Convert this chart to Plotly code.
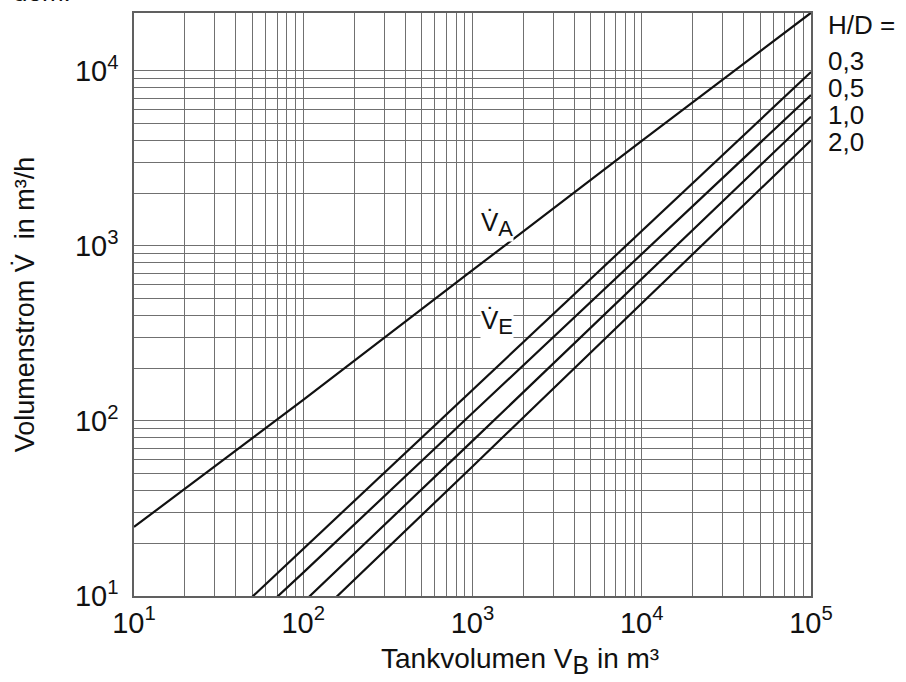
import plotly.graph_objects as go

# ---- data ----
vb_a = [10, 100, 1000, 10000, 100000]
v_a = [24.8, 132, 727, 3980, 21500]

vb_e = [50, 100, 1000, 10000, 100000]
v_e_03 = [9.9, 18.6, 151, 1220, 9860]
v_e_05 = [7.3, 13.6, 111, 898, 7290]
v_e_10 = [4.8, 9.2, 77, 650, 5470]
v_e_20 = [3.4, 6.5, 55, 472, 4020]

hd_labels = ["0,3", "0,5", "1,0", "2,0"]

x_major = [10, 100, 1000, 10000, 100000]
x_major_text = ["10<sup>1</sup>", "10<sup>2</sup>", "10<sup>3</sup>", "10<sup>4</sup>", "10<sup>5</sup>"]
y_major = [10, 100, 1000, 10000]
y_major_text = ["10<sup>1</sup>", "10<sup>2</sup>", "10<sup>3</sup>", "10<sup>4</sup>"]

x_minor = [k * 10 ** d for d in range(1, 5) for k in range(2, 10)]
y_minor = [k * 10 ** d for d in range(1, 4) for k in range(2, 10)]

FONT = "Liberation Sans, Arial, sans-serif"
LINE = dict(color="#111111", width=2.2)
GRID = "#707070"

fig = go.Figure()
fig.add_trace(go.Scatter(x=vb_a, y=v_a, mode="lines", line=LINE, showlegend=False))
for ys in (v_e_03, v_e_05, v_e_10, v_e_20):
    fig.add_trace(go.Scatter(x=vb_e, y=ys, mode="lines", line=LINE, showlegend=False))

# plot area in page pixels (body margin is removed by the post script)
L, R, T, B = 134, 811, 13, 596
W, H = 906, 682


def px(x):
    return (x - L) / (R - L)


def py(y):
    return (B - y) / (B - T)


def sub(t, size):
    return "<sub><span style='font-size:%dpx'>%s</span></sub>" % (size, t)


annos = [
    dict(text="V\u0307" + sub("A", 22), x=px(497), y=py(224), bgcolor="white", size=26),
    dict(text="V\u0307" + sub("E", 22), x=px(497), y=py(322), bgcolor="white", size=26),
    dict(text="H/D =", x=px(827), y=py(25), xanchor="left", size=26),
    dict(text="Tankvolumen V" + sub("B", 25) + " in m³", x=px(520), y=py(642),
         yanchor="top", size=28),
]
for lab, yy in zip(hd_labels, [61, 88, 115, 142]):
    annos.append(dict(text=lab, x=px(827), y=py(yy), xanchor="left", size=26))
annos.append(dict(text="dem.", x=px(12), y=py(8), xanchor="left", yanchor="bottom", size=26))

for a in annos:
    a.setdefault("xanchor", "center")
    a.setdefault("yanchor", "middle")
    size = a.pop("size")
    a.update(xref="paper", yref="paper", showarrow=False,
             font=dict(family=FONT, size=size, color="#111111"), borderpad=0)

axis_common = dict(
    type="log",
    showline=True, mirror=True, linecolor="#606060", linewidth=1.5,
    showgrid=True, gridcolor=GRID, gridwidth=1.2,
    ticks="", zeroline=False,
    tickfont=dict(family=FONT, size=29, color="#111111"),
)

fig.update_layout(
    width=W, height=H,
    margin=dict(l=L, r=W - R, t=T, b=H - B),
    paper_bgcolor="white", plot_bgcolor="white",
    annotations=annos,
    xaxis=dict(
        **axis_common,
        range=[1, 5],
        tickmode="array", tickvals=x_major, ticktext=x_major_text,
        minor=dict(tickmode="array", tickvals=x_minor, showgrid=True,
                   gridcolor=GRID, gridwidth=1.2, ticks=""),
        automargin=False,
    ),
    yaxis=dict(
        **axis_common,
        range=[1, 4.331],
        tickmode="array", tickvals=y_major, ticktext=y_major_text,
        minor=dict(tickmode="array", tickvals=y_minor, showgrid=True,
                   gridcolor=GRID, gridwidth=1.2, ticks=""),
        ticklabelstandoff=8,
        title=dict(text="Volumenstrom V\u0307  in m³/h",
                   font=dict(family=FONT, size=27, color="#111111"), standoff=32),
        automargin=False,
    ),
)

fig.write_html("out.html", config={"displayModeBar": False},
               post_script="document.body.style.margin='0px';")
